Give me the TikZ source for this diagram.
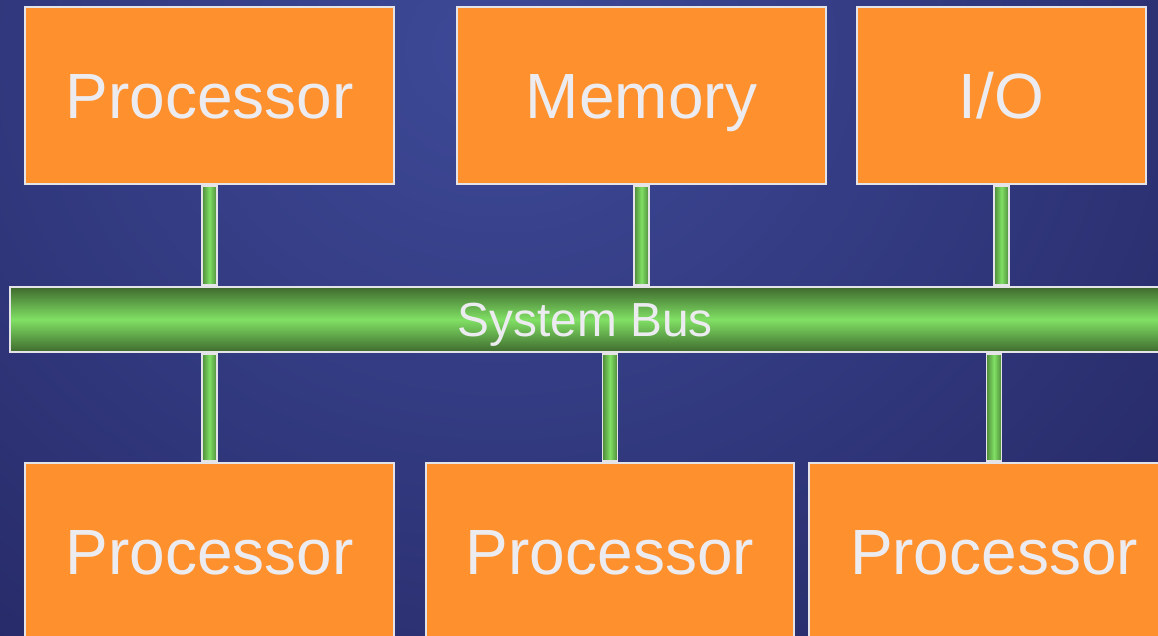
\documentclass[tikz,border=0pt]{standalone}
\usepackage{fontspec}
\setmainfont{Liberation Sans}
\usetikzlibrary{calc}
\definecolor{bgdark}{HTML}{1E1E56}
\definecolor{bglight}{HTML}{3E4A98}
\definecolor{boxorange}{HTML}{FE902D}
\definecolor{edgegray}{HTML}{E4E4E8}
\definecolor{labelgray}{HTML}{ECECF0}
\definecolor{bardark}{HTML}{3F6A2E}
\definecolor{barmid}{HTML}{4E8A3A}
\definecolor{barlight}{HTML}{80E064}
\tikzset{
  unit/.style={draw=edgegray, line width=1.4pt, fill=boxorange, text=labelgray,
    minimum height=4.425cm, inner sep=0pt, text height=32.6pt, text depth=0pt,
    font=\fontsize{45.5}{54}\selectfont},
  bus/.style={draw=edgegray, line width=1.4pt, top color=bardark, bottom color=bardark,
    middle color=barlight, text=labelgray, minimum height=1.625cm, inner sep=0pt,
    text height=24.3pt, text depth=0pt, font=\fontsize{34}{40}\selectfont},
  link/.style={draw=edgegray, line width=1.2pt, left color=barmid, right color=barmid,
    middle color=barlight},
}

\begin{document}
\begin{tikzpicture}[x=0.025cm, y=-0.025cm]
      \useasboundingbox (0,0) rectangle (1158,636);
      \clip (0,0) rectangle (1158,636);
      % backdrop
      \shade[inner color=bglight, outer color=bgdark] (-700,-1000) rectangle (1700,1100);

      % modules above the bus
      \node[unit, minimum width=9.225cm] at (209.5,95.5) (proc1) {Processor};
      \node[unit, minimum width=9.225cm] at (641.5,95.5) (mem) {Memory};
      \node[unit, minimum width=7.225cm] at (1001.5,95.5) (io) {I/O};

      \node[bus, minimum width=28.75cm] at (585,319.5) (sysbus) {System Bus};

      % modules below the bus
      \node[unit, minimum width=9.225cm] at (209.5,551.5) (proc2) {Processor};
      \node[unit, minimum width=9.2cm] at (610,551.5) (proc3) {Processor};
      \node[unit, minimum width=9.25cm] at (994,551.5) (proc4) {Processor};

      \foreach \m in {proc1,mem,io}
        \shadedraw[link] ($(\m.south)+(-7.5,1)$) rectangle ($(sysbus.north -| \m.south)+(7.5,-1)$);
      \foreach \m in {proc2,proc3,proc4}
        \shadedraw[link] ($(sysbus.south -| \m.north)+(-7.5,1)$) rectangle ($(\m.north)+(7.5,-1)$);
\end{tikzpicture}
\end{document}
